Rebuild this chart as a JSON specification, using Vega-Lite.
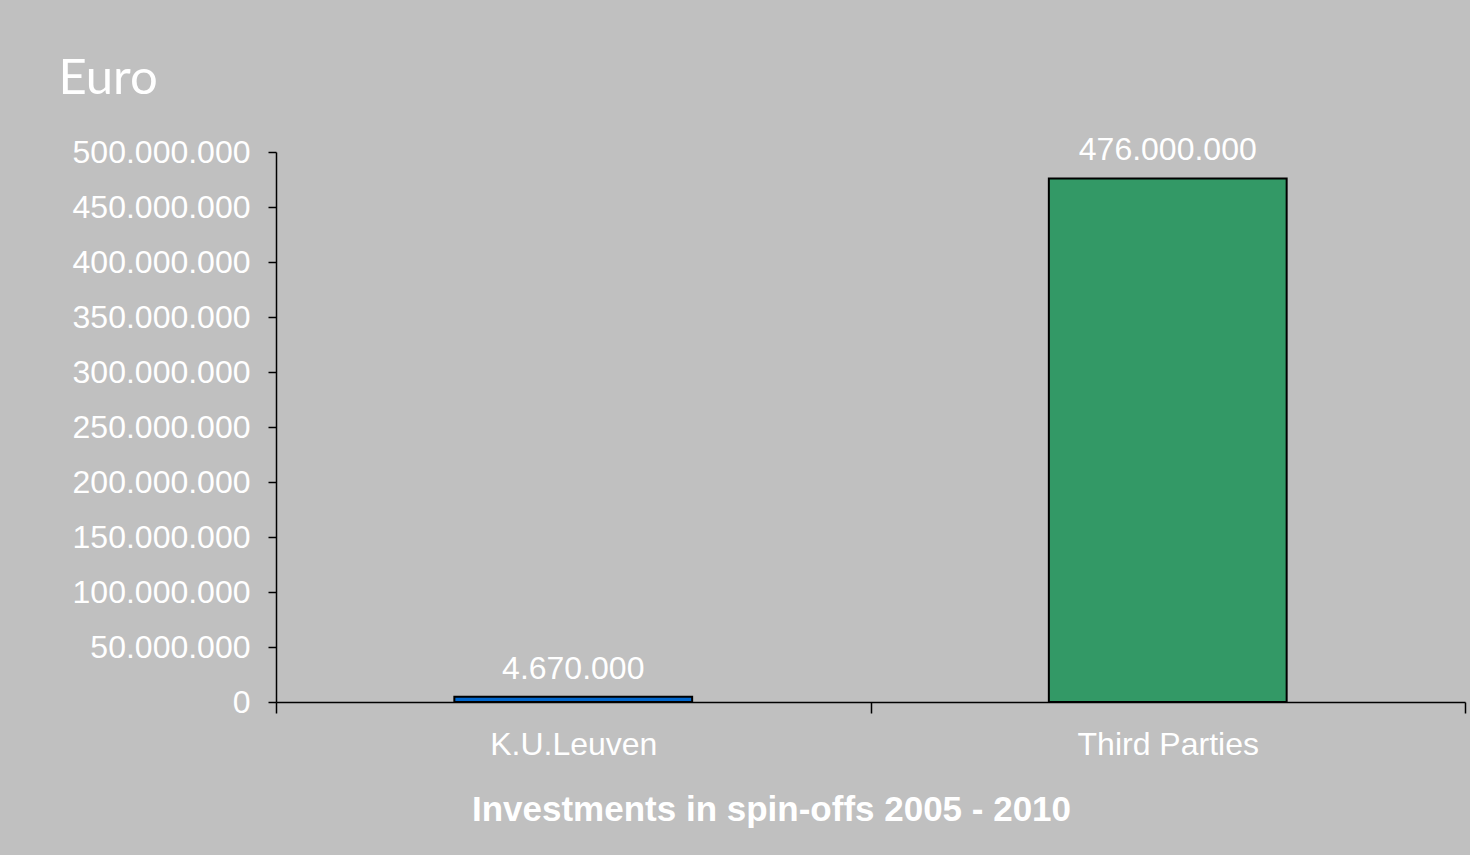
{
  "$schema": "https://vega.github.io/schema/vega-lite/v6.json",
  "width": 1189,
  "height": 550,
  "autosize": {"type": "none"},
  "padding": {"left": 276, "top": 152, "right": 5, "bottom": 153},
  "background": "#c0c0c0",
  "data": {
    "values": [
      {"Investor": "K.U.Leuven", "Euro": 4670000},
      {"Investor": "Third Parties", "Euro": 476000000}
    ]
  },
  "encoding": {
    "x": {
      "field": "Investor",
      "type": "nominal",
      "sort": null,
      "scale": {"paddingInner": 0, "paddingOuter": 0},
      "axis": {
        "title": "Investments in spin-offs 2005 - 2010",
        "labelAngle": 0,
        "labelLimit": 0,
        "labelFont": "Liberation Sans",
        "labelFontSize": 32,
        "labelColor": "#ffffff",
        "labelPadding": 16,
        "tickBand": "extent",
        "tickSize": 11,
        "tickColor": "#000000",
        "tickWidth": 1.5,
        "domainColor": "#000000",
        "domainWidth": 1.5,
        "titleFont": "Liberation Sans",
        "titleFontSize": 35,
        "titleFontWeight": "bold",
        "titleColor": "#ffffff",
        "titleAlign": "center",
        "titleBaseline": "alphabetic",
        "titleX": 495,
        "titleY": 118
      }
    },
    "y": {
      "field": "Euro",
      "type": "quantitative",
      "scale": {"domain": [0, 500000000]},
      "axis": {
        "title": "Euro",
        "values": [0, 50000000, 100000000, 150000000, 200000000, 250000000, 300000000, 350000000, 400000000, 450000000, 500000000],
        "format": ",d",
        "grid": false,
        "labelFont": "Liberation Sans",
        "labelFontSize": 32,
        "labelColor": "#ffffff",
        "labelPadding": 18,
        "tickSize": 8,
        "tickColor": "#000000",
        "tickWidth": 1.5,
        "domainColor": "#000000",
        "domainWidth": 1.5,
        "titleFont": "Lato",
        "titleFontSize": 49,
        "titleFontWeight": "normal",
        "titleColor": "#ffffff",
        "titleAngle": 0,
        "titleAlign": "left",
        "titleBaseline": "alphabetic",
        "titleX": -218,
        "titleY": -59
      }
    }
  },
  "layer": [
    {
      "mark": {"type": "bar", "width": {"band": 0.4}, "stroke": "#000000", "strokeWidth": 2},
      "encoding": {
        "color": {
          "field": "Investor",
          "type": "nominal",
          "scale": {"domain": ["K.U.Leuven", "Third Parties"], "range": ["#0066cc", "#339966"]},
          "legend": null
        }
      }
    },
    {
      "mark": {
        "type": "text",
        "baseline": "alphabetic",
        "dy": -18,
        "font": "Liberation Sans",
        "fontSize": 32,
        "color": "#ffffff"
      },
      "encoding": {
        "text": {"field": "Euro", "type": "quantitative", "format": ",d"}
      }
    }
  ],
  "config": {
    "view": {"stroke": null},
    "locale": {
      "number": {"decimal": ",", "thousands": ".", "grouping": [3], "currency": ["€", ""]}
    }
  }
}
